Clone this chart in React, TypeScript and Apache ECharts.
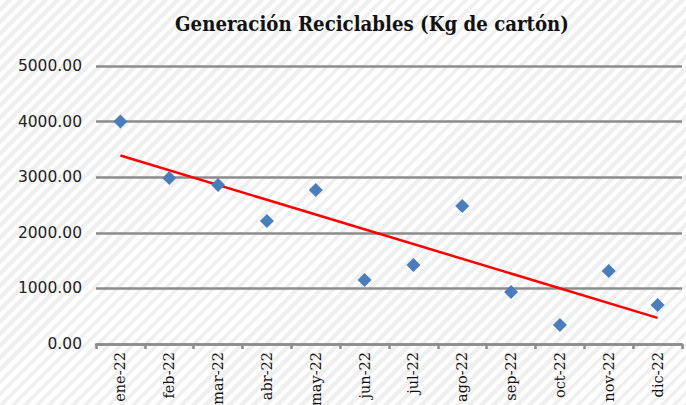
import React, { useEffect, useRef } from "react";
import * as echarts from "echarts";

const categories = ["ene-22", "feb-22", "mar-22", "abr-22", "may-22", "jun-22", "jul-22", "ago-22", "sep-22", "oct-22", "nov-22", "dic-22"];
const values = [4000, 2985, 2860, 2212, 2770, 1151, 1420, 2482, 935, 342, 1313, 701];
const yTicks = [0, 1000, 2000, 3000, 4000, 5000];
const titleText = "Generación Reciclables (Kg de cartón)";

function trend(vals: number[]): number[] {
  const n = vals.length;
  const xs = vals.map((_, i) => i + 1);
  const mx = xs.reduce((a, b) => a + b, 0) / n;
  const my = vals.reduce((a, b) => a + b, 0) / n;
  let sxy = 0, sxx = 0;
  for (let i = 0; i < n; i++) {
    sxy += (xs[i] - mx) * (vals[i] - my);
    sxx += (xs[i] - mx) * (xs[i] - mx);
  }
  const b = sxy / sxx;
  const a = my - b * mx;
  return xs.map((x, i) => (i === 0 || i === n - 1 ? a + b * x : NaN));
}

export default function App() {
  const ref = useRef<HTMLDivElement>(null);
  useEffect(() => {
    if (!ref.current) return;
    const chart = echarts.init(ref.current, null, { renderer: "svg" });
    const tr = trend(values);
    const trendData = tr.map((v, i) => (isNaN(v) ? null : [categories[i], v]));
    let scaleX = 0.85;
    try {
      const c = document.createElement("canvas").getContext("2d");
      if (c) {
        c.font = 'bold 20px "DejaVu Serif"';
        const w = c.measureText(titleText).width;
        if (w > 0) scaleX = 394 / w;
      }
    } catch (e) {}
    chart.setOption({
      animation: false,
      graphic: [
        {
          type: "text",
          x: 372,
          y: 24,
          scaleX: scaleX,
          scaleY: 1,
          style: {
            text: titleText,
            fontFamily: "DejaVu Serif",
            fontWeight: "bold",
            fontSize: 20,
            fill: "#111",
            textAlign: "center",
            textVerticalAlign: "middle",
          },
        },
      ],
      grid: { left: 96, right: 4, top: 66, bottom: 61, containLabel: false, outerBoundsMode: "none" },
      xAxis: {
        type: "category",
        data: categories,
        boundaryGap: true,
        axisLine: { show: true, lineStyle: { color: "#8c8c8c", width: 2.5 } },
        axisTick: { show: true, alignWithLabel: false, length: 5, lineStyle: { color: "#8c8c8c", width: 2.5 } },
        axisLabel: { rotate: 90, margin: 8, fontFamily: "DejaVu Serif", fontSize: 14.5, color: "#111" },
        splitLine: { show: false },
      },
      yAxis: {
        type: "value",
        min: yTicks[0],
        max: yTicks[yTicks.length - 1],
        interval: 1000,
        axisLine: { show: false },
        axisTick: { show: false },
        axisLabel: {
          margin: 14,
          fontFamily: "DejaVu Sans",
          fontSize: 15.5,
          color: "#222",
          formatter: (v: number) => v.toFixed(2),
        },
        splitLine: { show: true, lineStyle: { color: "#8c8c8c", width: 2.5 } },
      },
      series: [
        {
          type: "line",
          data: trendData,
          connectNulls: true,
          symbol: "none",
          lineStyle: { color: "#ff0000", width: 2.5 },
          z: 2,
        },
        {
          type: "scatter",
          data: values,
          symbol: "diamond",
          symbolSize: 14,
          itemStyle: { color: "#4a7ebb", opacity: 1 },
          z: 3,
        },
      ],
    });
    return () => chart.dispose();
  }, []);
  return (
    <div
      style={{
        position: "fixed",
        left: 0,
        top: 0,
        width: 686,
        height: 405,
        background: "repeating-linear-gradient(135deg, #ffffff 0px, #ffffff 4.5px, #efefef 4.5px, #efefef 8.5px)",
      }}
    >
      <div ref={ref} style={{ width: 686, height: 405 }} />
    </div>
  );
}
